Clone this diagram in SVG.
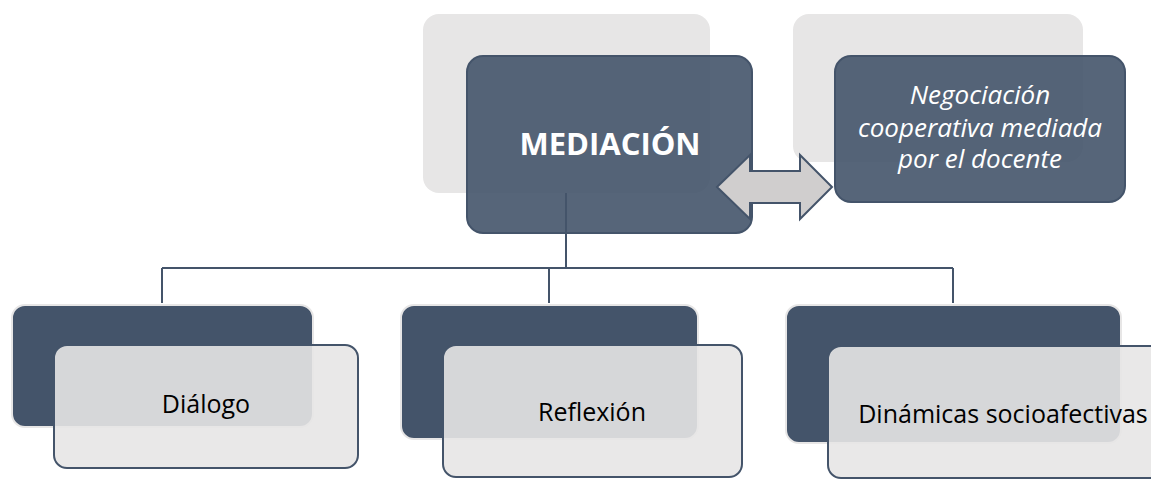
<svg xmlns="http://www.w3.org/2000/svg" width="1151" height="479" viewBox="0 0 1151 479">
<style>
.back{fill:#e7e6e6;}
.top{fill:#44546a;fill-opacity:0.9;stroke:#44546a;stroke-width:2;}
.dark{fill:#44546a;stroke:#e7e6e6;stroke-width:2;}
.light{fill:#e7e6e6;fill-opacity:0.9;stroke:#44546a;stroke-width:2;}
.conn{fill:none;stroke:#44546a;stroke-width:2;}
.t{font-family:"Open Sans","Liberation Sans",sans-serif;text-anchor:middle;}
.main{font-size:31px;font-weight:bold;fill:#ffffff;}
.ital{font-size:26px;font-style:italic;fill:#ffffff;}
.lbl{font-size:25px;fill:#000000;}
</style>
<rect width="1151" height="479" fill="#ffffff"/>
<g id="node-mediacion">
<rect class="back" x="423" y="14" width="287" height="179" rx="16"/>
<rect class="top" x="467" y="56" width="285" height="177" rx="16"/>
<text class="t main" x="610" y="155">MEDIACIÓN</text>
</g>
<g id="node-negociacion">
<rect class="back" x="793" y="14" width="290" height="148" rx="16"/>
<rect class="top" x="835" y="56" width="290" height="146" rx="16"/>
<text class="t ital" x="980" y="104">Negociación</text>
<text class="t ital" x="980" y="137">cooperativa mediada</text>
<text class="t ital" x="980" y="168">por el docente</text>
</g>
<g id="connectors">
<path d="M717,187 L750,155 L750,171 L800,171 L800,155 L832,187 L800,219 L800,203 L750,203 L750,219 Z" fill="#d0cece" stroke="#44546a" stroke-width="2" stroke-linejoin="miter"/>
<path class="conn" d="M566,193 V268"/>
<path class="conn" d="M162,268 H953"/>
<path class="conn" d="M162,268 V303"/>
<path class="conn" d="M549,268 V303"/>
<path class="conn" d="M953,268 V303"/>
</g>
<g id="node-dialogo">
<rect class="dark" x="12" y="305" width="301" height="122" rx="13"/>
<rect class="light" x="54" y="345" width="304" height="123" rx="13"/>
<text class="t lbl" x="206" y="413">Diálogo</text>
</g>
<g id="node-reflexion">
<rect class="dark" x="401" y="305" width="297" height="134" rx="13"/>
<rect class="light" x="443" y="345" width="299" height="132" rx="13"/>
<text class="t lbl" x="592" y="421">Reflexión</text>
</g>
<g id="node-dinamicas">
<rect class="dark" x="786" y="305" width="335" height="138" rx="13"/>
<rect class="light" x="828" y="346" width="340" height="132" rx="13"/>
<text class="t lbl" x="1003" y="423">Dinámicas socioafectivas</text>
</g>
</svg>
